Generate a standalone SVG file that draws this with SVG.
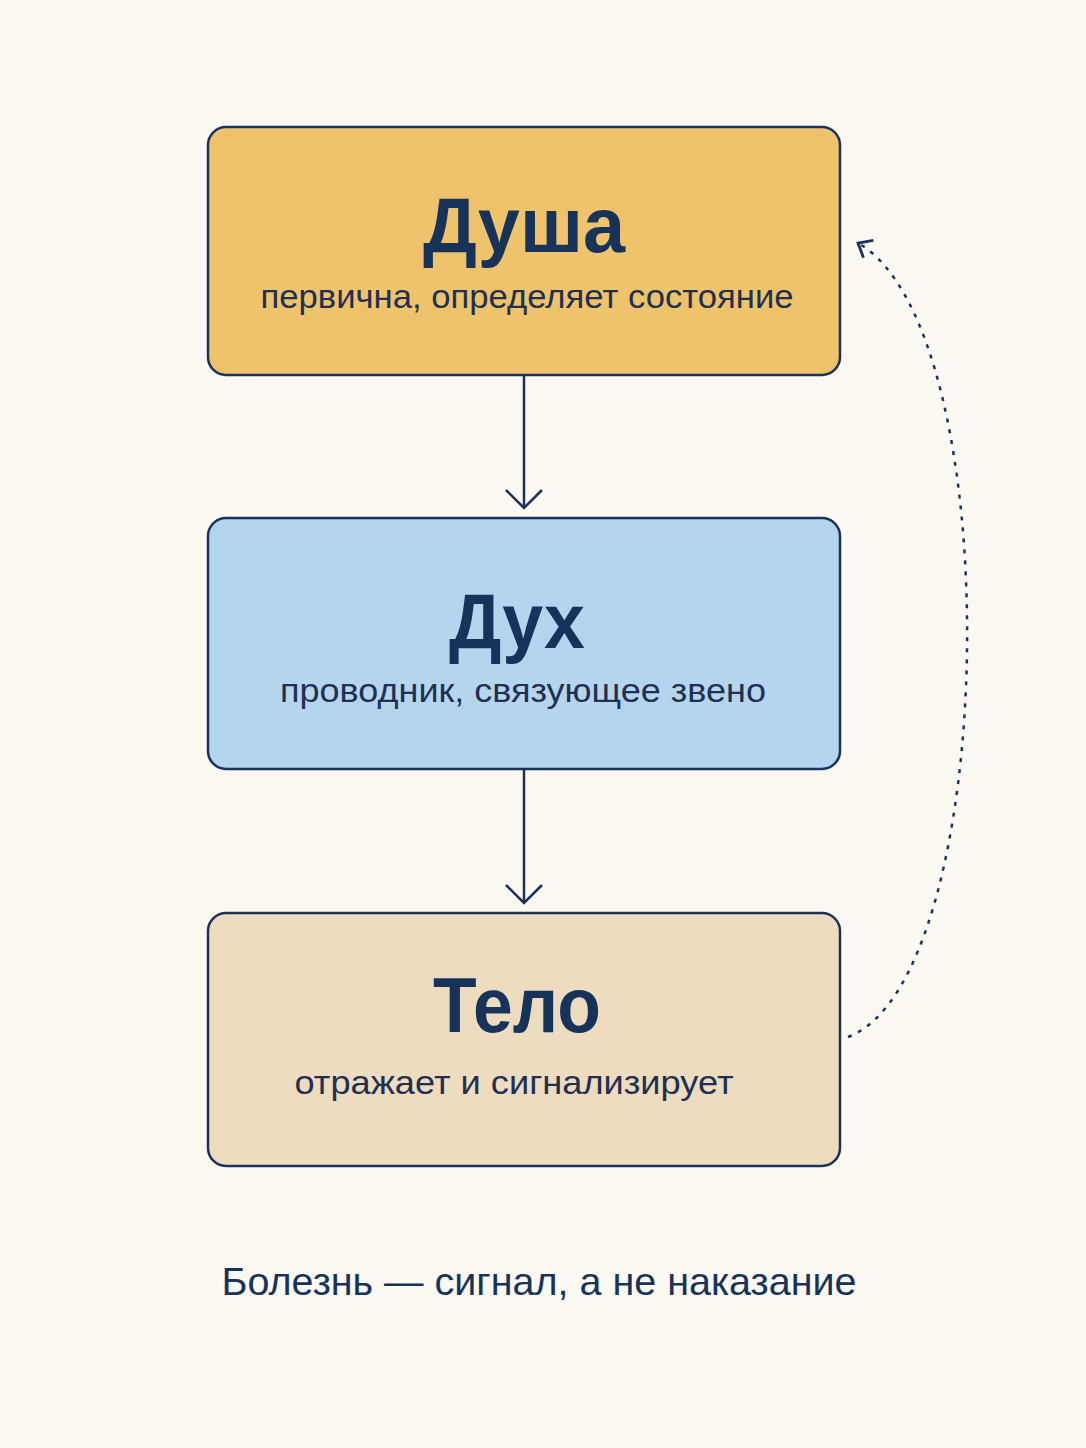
<svg xmlns="http://www.w3.org/2000/svg" width="1086" height="1448" viewBox="0 0 1086 1448">
<defs>
<style>
.box{stroke:#1b3358;stroke-width:2.5}
.title{font-family:"Liberation Sans",Arial,sans-serif;font-weight:bold;font-size:78px;fill:#17335a;text-anchor:middle}
.sub{font-family:"Liberation Sans",Arial,sans-serif;font-size:33px;fill:#1f3050;text-anchor:middle}
.foot{font-family:"Liberation Sans",Arial,sans-serif;font-size:39px;fill:#17335a;text-anchor:middle}
.edge{fill:none;stroke:#1b3358;stroke-width:2.5}
</style>
<marker id="chev" viewBox="0 0 24 24" refX="21" refY="12" markerWidth="24" markerHeight="24" markerUnits="userSpaceOnUse" orient="auto">
<path d="M9 2 L21 12 L9 22" fill="none" stroke="#1b3358" stroke-width="2.8"/>
</marker>
<marker id="chev2" viewBox="0 0 40 40" refX="36" refY="20" markerWidth="40" markerHeight="40" markerUnits="userSpaceOnUse" orient="auto">
<path d="M18 2 L36 20 L18 38" fill="none" stroke="#1b3358" stroke-width="2.5"/>
</marker>
</defs>
<rect width="1086" height="1448" fill="#fcf9f3"/>
<g id="connectors">
<path class="edge" d="M524 376 L524 508" marker-end="url(#chev2)"/>
<path class="edge" d="M524 770 L524 903" marker-end="url(#chev2)"/>
<path class="edge" d="M848 1037 C1000 980 1010 330 858 243" stroke-dasharray="4 7" stroke-width="4" marker-end="url(#chev)"/>
</g>
<g id="dusha">
<rect class="box" x="208" y="127" width="632" height="248" rx="18" fill="#eec36c"/>
<text class="title" x="524" y="252" textLength="202" lengthAdjust="spacingAndGlyphs">Душа</text>
<text class="sub" x="527" y="308" textLength="533" lengthAdjust="spacingAndGlyphs">первична, определяет состояние</text>
</g>
<g id="dukh">
<rect class="box" x="208" y="518" width="632" height="251" rx="18" fill="#b5d5ef"/>
<text class="title" x="517" y="648" textLength="136" lengthAdjust="spacingAndGlyphs">Дух</text>
<text class="sub" x="523" y="702" textLength="486" lengthAdjust="spacingAndGlyphs">проводник, связующее звено</text>
</g>
<g id="telo">
<rect class="box" x="208" y="913" width="632" height="253" rx="18" fill="#eedcc0"/>
<text class="title" x="517" y="1032" textLength="168" lengthAdjust="spacingAndGlyphs">Тело</text>
<text class="sub" x="514" y="1094" textLength="439" lengthAdjust="spacingAndGlyphs">отражает и сигнализирует</text>
</g>
<g id="footer">
<text class="foot" x="539" y="1295" textLength="635" lengthAdjust="spacingAndGlyphs">Болезнь — сигнал, а не наказание</text>
</g>
</svg>
